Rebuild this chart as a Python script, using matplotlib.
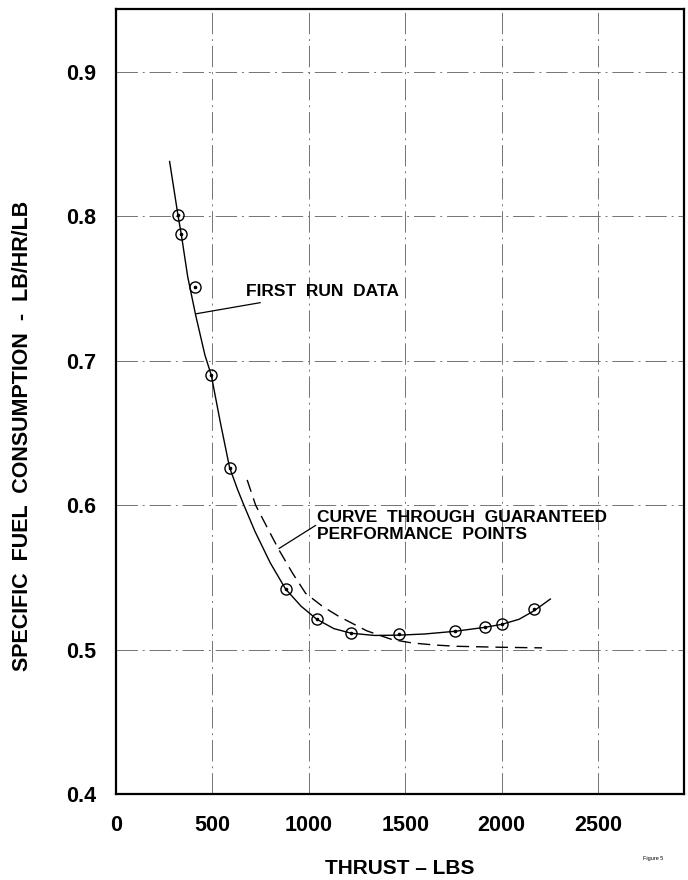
import matplotlib
matplotlib.use("Agg")
import matplotlib.pyplot as plt

# ---- data ----
run_thrust = [321, 338, 408, 494, 589, 879, 1041, 1221, 1466, 1760, 1912, 2001, 2169]
run_sfc = [0.801, 0.788, 0.751, 0.690, 0.626, 0.542, 0.521, 0.5116, 0.5106, 0.5127, 0.5154, 0.5175, 0.528]

fit_thrust = [278, 321, 338, 372, 414, 461, 494, 540, 589, 630, 660, 720, 800, 879, 960,
              1041, 1130, 1221, 1340, 1466, 1600, 1760, 1912, 2001, 2090, 2169, 2252]
fit_sfc = [0.838, 0.801, 0.788, 0.758, 0.731, 0.704, 0.690, 0.658, 0.626, 0.611, 0.601,
           0.582, 0.560, 0.542, 0.530, 0.521, 0.5145, 0.5113, 0.5098, 0.5100, 0.5108,
           0.5127, 0.5154, 0.5175, 0.521, 0.527, 0.535]

guar_thrust = [680, 724, 790, 845, 915, 983, 1070, 1155, 1300, 1430, 1535, 1650, 1760, 2000, 2209]
guar_sfc = [0.6175, 0.600, 0.583, 0.569, 0.553, 0.539, 0.530, 0.523, 0.513, 0.507, 0.5046,
            0.5032, 0.5023, 0.5016, 0.5012]

x_ticks = [0, 500, 1000, 1500, 2000, 2500]
x_ticklabels = ["0", "500", "1000", "1500", "2000", "2500"]
y_ticks = [0.4, 0.5, 0.6, 0.7, 0.8, 0.9]
y_ticklabels = ["0.4", "0.5", "0.6", "0.7", "0.8", "0.9"]

plt.rcParams['font.family'] = ['Liberation Sans', 'DejaVu Sans']
plt.rcParams['font.weight'] = 'bold'

W, H = 688, 880
fig = plt.figure(figsize=(W / 100, H / 100), dpi=100)
ax = fig.add_axes([116 / W, 1 - 794 / H, (684 - 116) / W, (794 - 9) / H])

ax.set_xlim(0, 2945)
ax.set_ylim(0.4, 0.9436)

ax.set_xticks(x_ticks)
ax.set_xticklabels(x_ticklabels, fontsize=15.5, fontweight='bold')
ax.set_yticks(y_ticks)
ax.set_yticklabels(y_ticklabels, fontsize=15.5, fontweight='bold')
ax.tick_params(axis='both', length=0)
ax.tick_params(axis='x', pad=15)
ax.tick_params(axis='y', pad=14)

ax.grid(True, color='0.45', linewidth=0.7, linestyle=(0, (22, 5, 2, 5)))
ax.set_axisbelow(True)
for s in ax.spines.values():
    s.set_linewidth(1.6)
    s.set_color('black')

# fitted curve through first run data
ax.plot(fit_thrust, fit_sfc, color='black', linewidth=1.0, zorder=3)
# guaranteed performance curve
ax.plot(guar_thrust, guar_sfc, color='black', linewidth=1.0,
        linestyle=(0, (9, 5)), zorder=3)
# data points: circle with centre dot
ax.plot(run_thrust, run_sfc, linestyle='none', marker='o', markersize=8,
        markerfacecolor='none', markeredgecolor='black', markeredgewidth=1.0, zorder=4)
ax.plot(run_thrust, run_sfc, linestyle='none', marker='o', markersize=1.6,
        color='black', zorder=5)

# annotations
ax.annotate("FIRST  RUN  DATA", xy=(413, 0.7325), xytext=(674, 0.7477),
            fontsize=12.5, fontweight='bold', va='center', ha='left',
            arrowprops=dict(arrowstyle='-', color='black', linewidth=0.9,
                            shrinkA=2, shrinkB=0))
ax.text(1041, 0.5915, "CURVE  THROUGH  GUARANTEED", fontsize=12.5, fontweight='bold',
        va='center', ha='left')
ax.text(1041, 0.5798, "PERFORMANCE  POINTS", fontsize=12.5, fontweight='bold',
        va='center', ha='left')
ax.annotate("", xy=(845, 0.570), xytext=(1035, 0.586),
            arrowprops=dict(arrowstyle='-', color='black', linewidth=0.9,
                            shrinkA=0, shrinkB=0))

# axis titles
fig.text(23 / W, 1 - 436 / H, "SPECIFIC  FUEL  CONSUMPTION  -  LB/HR/LB",
         rotation=90, fontsize=15.5, fontweight='bold', ha='center', va='center')
fig.text(400 / W, 1 - 868 / H, "THRUST \u2013 LBS", fontsize=15,
         fontweight='bold', ha='center', va='center')
fig.text(653 / W, 1 - 858 / H, "Figure 5", fontsize=4, ha='center', va='center',
         fontweight='normal')

fig.savefig("out.png", dpi=100)
